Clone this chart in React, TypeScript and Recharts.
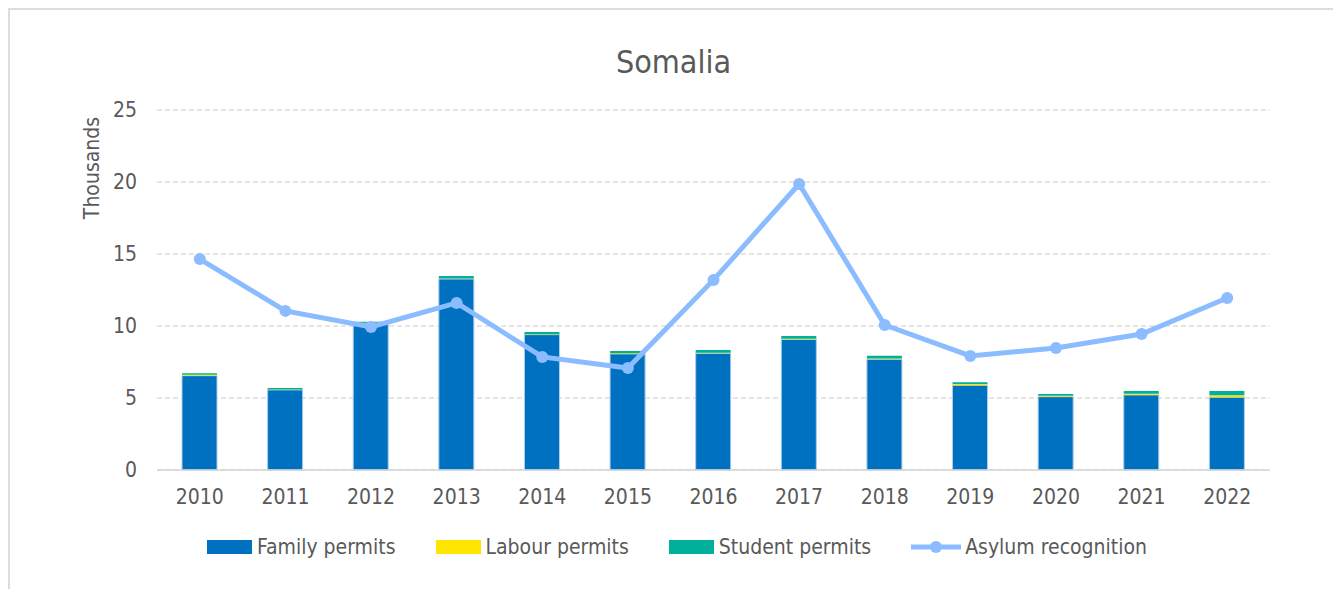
import React from 'react';
import {
  ComposedChart, Bar, Line, XAxis, YAxis, CartesianGrid, Legend, Label,
} from 'recharts';

const years = ['2010', '2011', '2012', '2013', '2014', '2015', '2016', '2017', '2018', '2019', '2020', '2021', '2022'];
const familyPermits = [6.55, 5.56, 10.2, 13.26, 9.4, 8.06, 8.1, 9.07, 7.69, 5.88, 5.09, 5.21, 5.05];
const labourPermits = [0.07, 0.03, 0.02, 0.03, 0.03, 0.04, 0.04, 0.05, 0.05, 0.1, 0.06, 0.08, 0.14];
const studentPermits = [0.1, 0.11, 0.08, 0.18, 0.15, 0.16, 0.19, 0.18, 0.2, 0.12, 0.13, 0.2, 0.3];
const asylumRecognition = [14.65, 11.05, 9.93, 11.6, 7.85, 7.08, 13.2, 19.86, 10.07, 7.92, 8.47, 9.44, 11.94];
const yTicks = [0, 5, 10, 15, 20, 25];
const seriesNames = ['Family permits', 'Labour permits', 'Student permits', 'Asylum recognition'];

const FONT = '"DejaVu Sans Condensed", "DejaVu Sans", sans-serif';
const TEXT = '#595959';
const GRID = '#cccccc';
const AXIS = '#d4d4d4';

const data = years.map((year, i) => ({
  year,
  family: familyPermits[i],
  labour: labourPermits[i],
  student: studentPermits[i],
  asylum: asylumRecognition[i],
}));

// legend with wide swatches like the spreadsheet original, kept in series order
// eslint-disable-next-line @typescript-eslint/no-explicit-any
function ChartLegend({ payload }: any) {
  if (!payload) return null;
  const items = [...payload].sort(
    // eslint-disable-next-line @typescript-eslint/no-explicit-any
    (a: any, b: any) => seriesNames.indexOf(a.value) - seriesNames.indexOf(b.value)
  );
  return (
    <div style={{
      display: 'flex', justifyContent: 'center', alignItems: 'center',
      gap: 40, height: 30, paddingLeft: 14, fontFamily: FONT, fontStretch: 'condensed',
      fontSize: 21, color: TEXT,
    }}>
      {/* eslint-disable-next-line @typescript-eslint/no-explicit-any */}
      {items.map((p: any) => (
        <div key={p.value} style={{ display: 'flex', alignItems: 'center' }}>
          {p.type === 'line' ? (
            <svg width={50} height={14} style={{ marginRight: 4 }}>
              <line x1={0} y1={7} x2={50} y2={7} stroke={p.color} strokeWidth={5} />
              <circle cx={25} cy={7} r={6} fill={p.color} />
            </svg>
          ) : (
            <svg width={45} height={14} style={{ marginRight: 5 }}>
              <rect x={0} y={0} width={45} height={14} fill={p.color} />
            </svg>
          )}
          <span>{p.value}</span>
        </div>
      ))}
    </div>
  );
}

export default function App() {
  return (
    <div style={{
      position: 'relative',
      width: 1331,
      height: 600,
      boxSizing: 'border-box',
      border: '2px solid #e0dcdc',
      background: '#fff',
    }}>
      <div style={{
        position: 'absolute', top: 36, left: 0, width: '100%',
        textAlign: 'center', fontFamily: FONT, fontStretch: 'condensed',
        fontSize: 32, lineHeight: '32px', color: TEXT,
      }}>
        Somalia
      </div>
      <ComposedChart
        width={1327}
        height={580}
        data={data}
        margin={{ top: 100, right: 67, left: 60, bottom: 28 }}
        barSize={35}
      >
        <CartesianGrid vertical={false} stroke={GRID} strokeDasharray="5 3" />
        <XAxis
          dataKey="year"
          height={62}
          tickLine={false}
          axisLine={{ stroke: AXIS, strokeWidth: 1.5 }}
          tickMargin={13}
          tick={{ fill: TEXT, fontSize: 21, fontFamily: FONT, fontStretch: 'condensed' }}
        />
        <YAxis
          width={87}
          domain={[0, 25]}
          ticks={yTicks}
          axisLine={false}
          tickLine={false}
          tickMargin={14}
          tick={{ fill: TEXT, fontSize: 21, fontFamily: FONT, fontStretch: 'condensed' }}
        >
          <Label
            // eslint-disable-next-line @typescript-eslint/no-explicit-any
            content={({ viewBox }: any) => {
              const cx = viewBox.x + 22;
              const cy = viewBox.y + 58;
              return (
                <text
                  x={cx} y={cy}
                  transform={`rotate(-90 ${cx} ${cy})`}
                  textAnchor="middle"
                  dominantBaseline="central"
                  fill={TEXT}
                  fontSize={21}
                  fontFamily={FONT}
                  style={{ fontStretch: 'condensed' }}
                >
                  Thousands
                </text>
              );
            }}
          />
        </YAxis>
        <Legend verticalAlign="bottom" content={<ChartLegend />} />
        <Bar dataKey="family" name="Family permits" stackId="p" fill="#0070c0"
          stroke="#a9cdee" strokeWidth={1} legendType="rect" isAnimationActive={false} />
        <Bar dataKey="labour" name="Labour permits" stackId="p" fill="#ffe600"
          legendType="rect" isAnimationActive={false} />
        <Bar dataKey="student" name="Student permits" stackId="p" fill="#00b09b"
          legendType="rect" isAnimationActive={false} />
        <Line
          dataKey="asylum"
          name="Asylum recognition"
          type="linear"
          stroke="#8bbcff"
          strokeWidth={5}
          dot={{ r: 6, fill: '#8bbcff', stroke: 'none' }}
          activeDot={false}
          legendType="line"
          isAnimationActive={false}
        />
      </ComposedChart>
    </div>
  );
}
